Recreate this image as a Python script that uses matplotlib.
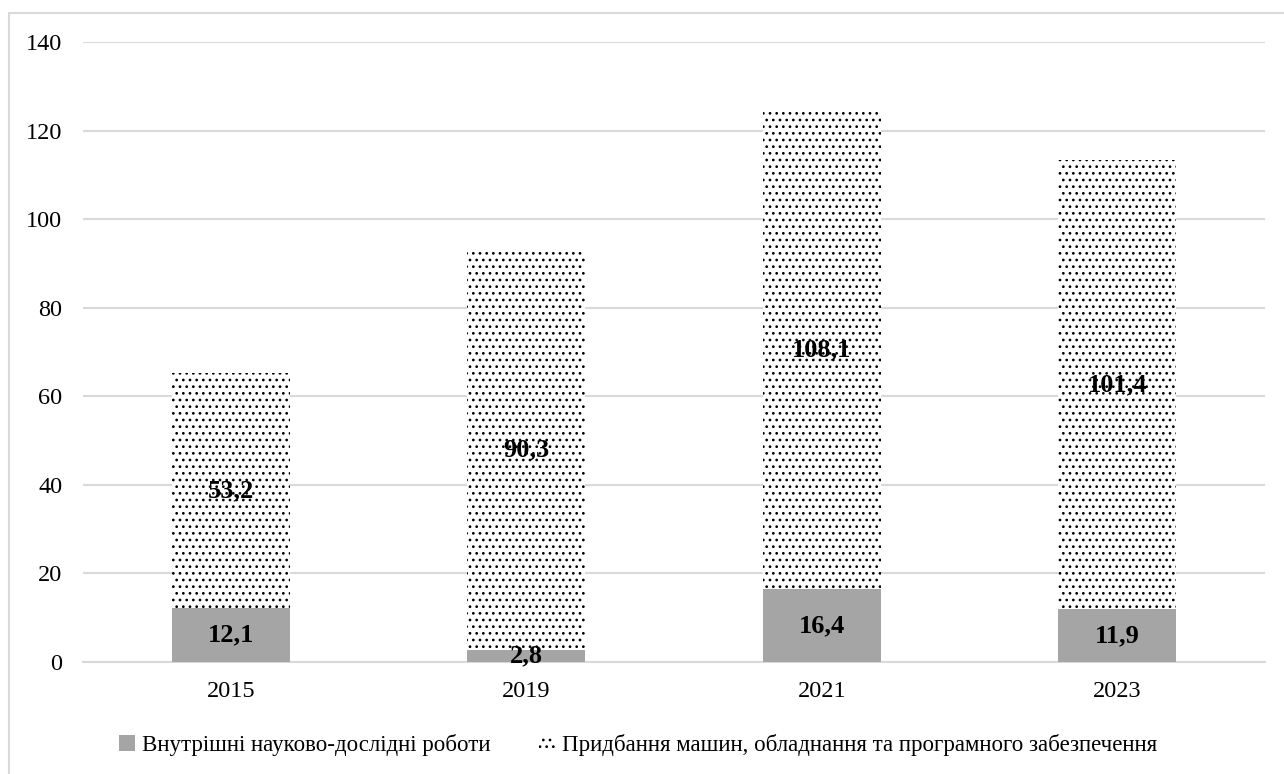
import numpy as np
import matplotlib.pyplot as plt
from matplotlib.patches import Patch, Rectangle

DPI = 120
S = 100 / DPI  # sizes below are chosen for 100 dpi, scaled to DPI

plt.rcParams['font.family'] = ['Liberation Serif', 'DejaVu Serif']
plt.rcParams['hatch.linewidth'] = 1.0 * S

# Data
years = ['2015', '2019', '2021', '2023']
rnd_internal = [12.1, 2.8, 16.4, 11.9]
machinery = [53.2, 90.3, 108.1, 101.4]
series_names = ['Внутрішні науково-дослідні роботи',
                'Придбання машин, обладнання та програмного забезпечення']

GRAY = '#a5a5a5'
GRID = '#d9d9d9'


def fmt(v):
    return f'{v:.1f}'.replace('.', ',')


fig = plt.figure(figsize=(1284 / DPI, 774 / DPI), dpi=DPI)
ax = fig.add_axes([83 / 1284, 112 / 774, (1265 - 83) / 1284, (662 - 42) / 774])

x = np.arange(len(years))
w = 0.4
ax.bar(x, rnd_internal, w, color=GRAY, zorder=3)
ax.bar(x, machinery, w, bottom=rnd_internal, color='white',
       edgecolor='black', hatch='...', linewidth=0, zorder=3)

for i in range(len(years)):
    ax.text(x[i], rnd_internal[i] / 2, fmt(rnd_internal[i]), ha='center', va='center',
            fontsize=19 * S, fontweight='bold', zorder=4)
    ax.text(x[i], rnd_internal[i] + machinery[i] / 2, fmt(machinery[i]), ha='center',
            va='center', fontsize=19 * S, fontweight='bold', zorder=4)

ax.set_xlim(-0.5, len(years) - 0.5)
ax.set_ylim(0, 140)
ax.set_yticks(range(0, 141, 20))
ax.set_xticks(x)
ax.set_xticklabels(years)
ax.tick_params(axis='both', length=0, labelsize=17.5 * S)
ax.tick_params(axis='y', pad=15 * S)
ax.tick_params(axis='x', pad=14 * S)
ax.grid(axis='y', color=GRID, linewidth=1.5 * S, zorder=0)
for s in ['top', 'right', 'left']:
    ax.spines[s].set_visible(False)
ax.spines['bottom'].set_color(GRID)
ax.spines['bottom'].set_linewidth(1.5 * S)

handles = [Patch(facecolor=GRAY, edgecolor='none'),
           Patch(facecolor='white', edgecolor='black', hatch='...', linewidth=0)]
fig.legend(handles, series_names, loc='center', bbox_to_anchor=(638 / 1284, 1 - 745 / 774),
           ncol=2, frameon=False, fontsize=16.5 * S, handlelength=0.7, handleheight=0.7,
           handletextpad=0.3, columnspacing=2.1)

# outer chart frame (cut off at right and bottom)
fig.patches.append(Rectangle((9 / 1284, -0.1), 1.2, (761 / 774) + 0.1,
                             transform=fig.transFigure, fill=False,
                             edgecolor=GRID, linewidth=1.5 * S))

fig.savefig('out.png', dpi=DPI)
